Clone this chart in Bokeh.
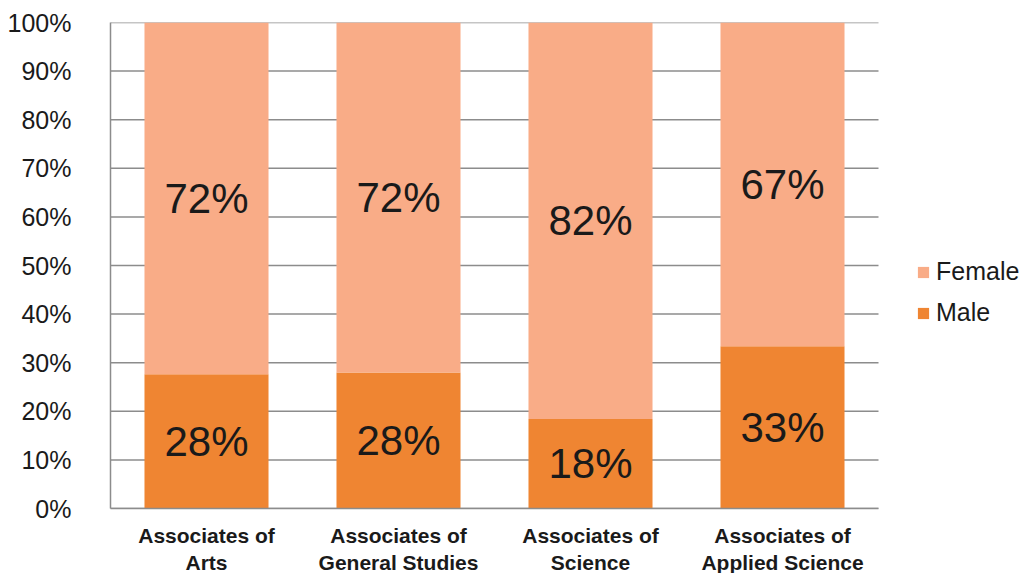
from bokeh.plotting import figure
from bokeh.models import (ColumnDataSource, Range1d, FixedTicker, NumeralTickFormatter,
                          Legend, LegendItem)
from bokeh.embed import file_html
from bokeh.resources import INLINE
from bokeh.core.properties import value

categories = ["Associates of\nArts", "Associates of\nGeneral Studies",
              "Associates of\nScience", "Associates of\nApplied Science"]
male = [27.6, 28.0, 18.4, 33.4]
female = [round(100 - m, 1) for m in male]
y_ticks = [0, 10, 20, 30, 40, 50, 60, 70, 80, 90, 100]

MALE_C = "#EF8532"
FEMALE_C = "#F9AC87"
TEXT_C = "#1a1a1a"
GRID_C = "#8c8c8c"

n = len(categories)
xs = [i + 0.5 for i in range(n)]
src = ColumnDataSource(dict(
    x=xs,
    male=[m / 100 for m in male],
    female_top=[(m + f) / 100 for m, f in zip(male, female)],
    male_mid=[m / 200 for m in male],
    female_mid=[(m + f / 2) / 100 for m, f in zip(male, female)],
    male_lbl=[f"{round(m)}%" for m in male],
    female_lbl=[f"{round(f)}%" for f in female],
))

FW = 918
UNIT = 192  # px per category
p = figure(frame_width=FW, frame_height=486, output_backend="svg", toolbar_location=None,
           x_range=Range1d(0, FW / UNIT), y_range=Range1d(0, 1),
           min_border_left=110, min_border_right=0, min_border_top=22, min_border_bottom=0)
p.outline_line_color = None
p.background_fill_color = "white"
p.border_fill_color = "white"

# horizontal grid lines limited to the category area
gsrc = ColumnDataSource(dict(y=[t / 100 for t in y_ticks], x0=[0] * len(y_ticks),
                             x1=[n] * len(y_ticks)))
p.segment(x0="x0", x1="x1", y0="y", y1="y", source=gsrc, line_color=GRID_C, line_width=1.5)

r_male = p.vbar(x="x", width=0.646, bottom=0, top="male", source=src,
                fill_color=MALE_C, line_color=None)
r_female = p.vbar(x="x", width=0.646, bottom="male", top="female_top", source=src,
                  fill_color=FEMALE_C, line_color=None)

for col, lbl in (("male_mid", "male_lbl"), ("female_mid", "female_lbl")):
    p.text(x="x", y=col, text=lbl, source=src, text_align="center", text_baseline="middle",
           text_font=value("Liberation Sans"), text_font_size="42px", text_color=TEXT_C)

# axes
p.yaxis.ticker = FixedTicker(ticks=[t / 100 for t in y_ticks])
p.yaxis.formatter = NumeralTickFormatter(format="0%")
p.yaxis.major_label_text_font = "Liberation Sans"
p.yaxis.major_label_text_font_size = "25px"
p.yaxis.major_label_text_color = TEXT_C
p.yaxis.major_label_standoff = 33
p.yaxis.major_tick_line_color = None
p.yaxis.minor_tick_line_color = None
p.yaxis.axis_line_color = GRID_C
p.yaxis.axis_line_width = 1.5

p.xaxis.ticker = FixedTicker(ticks=xs)
p.xaxis.bounds = (0, n)
p.xaxis.major_label_overrides = {x: c for x, c in zip(xs, categories)}
p.xaxis.major_label_text_font = "Liberation Sans"
p.xaxis.major_label_text_font_style = "bold"
p.xaxis.major_label_text_font_size = "21px"
p.xaxis.major_label_text_color = TEXT_C
p.xaxis.major_label_standoff = 9
p.xaxis.major_tick_line_color = None
p.xaxis.minor_tick_line_color = None
p.xaxis.axis_line_color = GRID_C
p.xaxis.axis_line_width = 1.5

p.xgrid.grid_line_color = None
p.ygrid.grid_line_color = None

legend = Legend(items=[LegendItem(label="Female", renderers=[r_female]),
                       LegendItem(label="Male", renderers=[r_male])],
                location=(806, 181), padding=0, margin=0, spacing=12,
                glyph_width=14, glyph_height=14, label_height=29, label_standoff=6,
                label_text_font="Liberation Sans", label_text_font_size="25px",
                label_text_color=TEXT_C, border_line_color=None,
                background_fill_alpha=0)
p.add_layout(legend, "center")

open("out.html", "w").write(file_html(p, INLINE))
